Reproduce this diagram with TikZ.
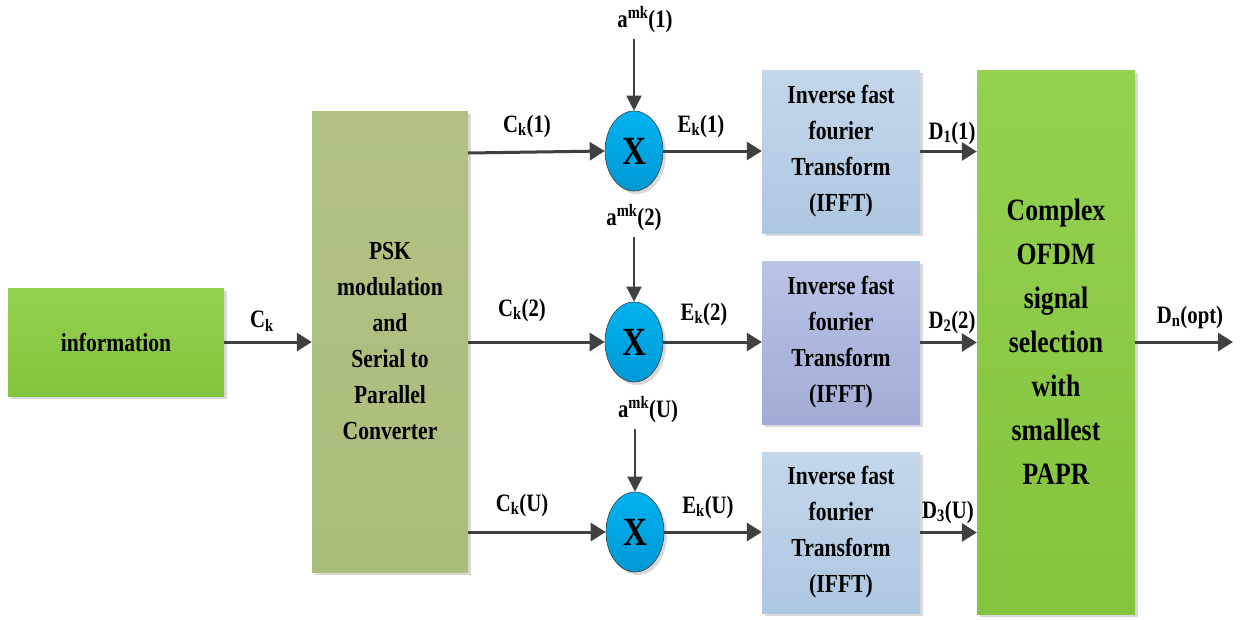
\documentclass[tikz,border=0pt]{standalone}
\usepackage{fontspec}
\setmainfont{Liberation Serif}[FakeStretch=0.83]
\usetikzlibrary{arrows.meta,shapes.geometric,shadows}
\definecolor{arrgray}{HTML}{404040}
\definecolor{gtop}{HTML}{93D151}
\definecolor{gbot}{HTML}{84C33C}
\definecolor{olivec}{HTML}{B1C283}
\definecolor{oliveb}{HTML}{AABD7A}
\definecolor{btop}{HTML}{C4D7EB}
\definecolor{bbot}{HTML}{ACC7E1}
\definecolor{ltop}{HTML}{B9C4E7}
\definecolor{lbot}{HTML}{A2ABD5}
\definecolor{ctop}{HTML}{00B2F0}
\definecolor{cbot}{HTML}{0099D4}
\begin{document}
\begin{tikzpicture}[x=1pt,y=-1pt,
  shad/.style={drop shadow={shadow xshift=3pt,shadow yshift=-3pt,fill=black!15,opacity=1}},
  box/.style={shad,draw=none,align=center,inner sep=0pt,
    font=\fontsize{26}{36}\selectfont\bfseries},
  greenbox/.style={box,top color=gtop,bottom color=gbot},
  olivebox/.style={box,top color=olivec,bottom color=oliveb},
  bluebox/.style={box,top color=btop,bottom color=bbot,minimum width=158pt},
  lavbox/.style={box,top color=ltop,bottom color=lbot,minimum width=158pt},
  mult/.style={ellipse,draw=arrgray,line width=0.6pt,top color=ctop,bottom color=cbot,
    minimum width=58pt,minimum height=80pt,inner sep=0pt,
    font=\fontsize{40}{40}\selectfont\bfseries,shad},
  lab/.style={inner sep=0pt,font=\fontsize{25}{28}\selectfont\bfseries},
  arr/.style={draw=arrgray,line width=3pt,-{Triangle[length=15pt,width=18pt]}},
  varr/.style={draw=arrgray,line width=2pt,-{Triangle[length=15pt,width=15pt]}}
]
\useasboundingbox (0,0) rectangle (1256,619);

% blocks
\node[greenbox,minimum width=216pt,minimum height=108pt] (info) at (116,342) {information};
\node[olivebox,minimum width=156pt,minimum height=461pt] (psk) at (390,341.5)
  {PSK\\modulation\\and\\Serial to\\Parallel\\Converter};
\node[bluebox,minimum height=163pt] (f1) at (841,151.5) {Inverse fast\\fourier\\Transform\\(IFFT)};
\node[lavbox,minimum height=163pt] (f2) at (841,342.5) {Inverse fast\\fourier\\Transform\\(IFFT)};
\node[bluebox,minimum height=161pt] (f3) at (841,532.5) {Inverse fast\\fourier\\Transform\\(IFFT)};
\node[greenbox,minimum width=158pt,minimum height=544pt,font=\fontsize{31}{44}\selectfont\bfseries] (sel) at (1056,342)
  {Complex\\OFDM\\signal\\selection\\with\\smallest\\PAPR};

% multipliers
\node[mult] (c1) at (634,151) {X};
\node[mult] (c2) at (634,342) {X};
\node[mult] (c3) at (635,532) {X};

% labels
\node[lab] (lck) at (262,321) {C\textsubscript{k}};
\node[lab] (lc1) at (527,126) {C\textsubscript{k}(1)};
\node[lab] (lc2) at (522,310) {C\textsubscript{k}(2)};
\node[lab] (lc3) at (522,505) {C\textsubscript{k}(U)};
\node[lab] (le1) at (701,126) {E\textsubscript{k}(1)};
\node[lab] (le2) at (704,314) {E\textsubscript{k}(2)};
\node[lab] (le3) at (708,507) {E\textsubscript{k}(U)};
\node[lab] (la1) at (645,20) {a\textsuperscript{mk}(1)};
\node[lab] (la2) at (634,218) {a\textsuperscript{mk}(2)};
\node[lab] (la3) at (648,410) {a\textsuperscript{mk}(U)};
\node[lab] (ld1) at (952,133) {D\textsubscript{1}(1)};
\node[lab] (ld2) at (952,322) {D\textsubscript{2}(2)};
\node[lab] (ld3) at (948,512) {D\textsubscript{3}(U)};
\node[lab] (ldn) at (1190,317) {D\textsubscript{n}(opt)};

\coordinate (out) at (1233,342);
\coordinate (p1) at (468,153);

% connectors
\draw[arr] (info.east) -- (psk.west |- info.east);
\draw[arr] (p1) -- (c1.west);
\draw[arr] (psk.east |- c2.west) -- (c2.west);
\draw[arr] (psk.east |- c3.west) -- (c3.west);
\draw[arr] (c1.east) -- (f1.west |- c1.east);
\draw[arr] (c2.east) -- (f2.west |- c2.east);
\draw[arr] (c3.east) -- (f3.west |- c3.east);
\draw[arr] (f1.east) -- (sel.west |- f1.east);
\draw[arr] (f2.east) -- (sel.west |- f2.east);
\draw[arr] (f3.east) -- (sel.west |- f3.east);
\draw[arr] (sel.east) -- (out);
\draw[varr] (c1.north |- la1.south) ++(0,6) -- (c1.north);
\draw[varr] (c2.north |- la2.south) ++(0,6) -- (c2.north);
\draw[varr] (c3.north |- la3.south) ++(0,6) -- (c3.north);
\end{tikzpicture}
\end{document}
